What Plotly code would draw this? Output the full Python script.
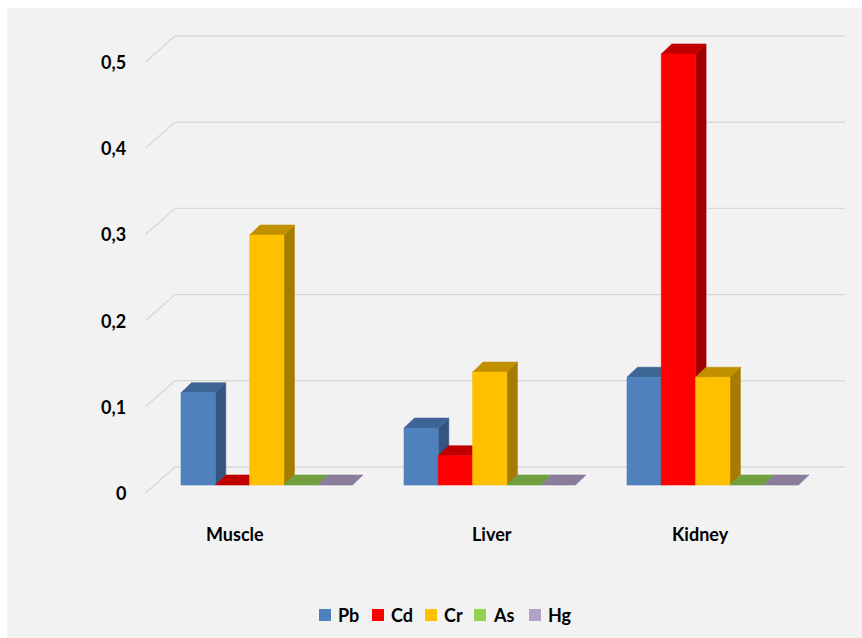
import plotly.graph_objects as go

# ---- data -------------------------------------------------------------
categories = ["Muscle", "Liver", "Kidney"]
metals = ["Pb", "Cd", "Cr", "As", "Hg"]
pb = [0.107, 0.066, 0.125]
cd = [0.0, 0.034, 0.5]
cr = [0.29, 0.131, 0.125]
as_ = [0.0, 0.0, 0.0]
hg = [0.0, 0.0, 0.0]
y_ticks = [0, 0.1, 0.2, 0.3, 0.4, 0.5]
y_tick_text = ["0", "0,1", "0,2", "0,3", "0,4", "0,5"]

series = [pb, cd, cr, as_, hg]

# ---- styling ----------------------------------------------------------
front_col = ["#4f81bd", "#ff0000", "#ffc000", "#92d050", "#b3a2c7"]
top_col = ["#3c6494", "#c00000", "#c09000", "#71a040", "#8a7d9c"]
side_col = ["#345481", "#a00000", "#a67c00", "#5e8a35", "#776a88"]
grid_col = "#d9d9d9"
FONT = "Lato"
TXT = dict(family=FONT, size=18, color="#000000", weight="bold")

W, H = 862, 638
ML, MT = 7, 8

# axis geometry (data units): 1 x-unit = one category step, y = value
X_RANGE = [-1.1648, 2.6693]
Y_RANGE = [-0.1775, 0.5534]
BW = 0.1538                 # bar width
DDX, DDY = 0.047, 0.0116    # bar depth projection
WALL_XL, WALL_XR, WALL_DY = -0.4114, 2.593, 0.0209
FLOOR_XL, FLOOR_DY = -0.5437, -0.0093
cat_label_shift = [-0.142, 0.008, -0.057]

# legend key layout (pixel positions of each key's left edge)
legend_key_px = [319, 372, 425, 474, 529]
legend_y_px = 615
KEY = 12


def px_to_paper(px, py):
    return (px - ML) / (W - ML), (H - py) / (H - MT)


fig = go.Figure()

# back wall gridlines with the perspective stub at the left
gx, gy = [], []
for v in y_ticks:
    gx += [FLOOR_XL, WALL_XL, WALL_XR, None]
    gy += [v + FLOOR_DY, v + WALL_DY, v + WALL_DY, None]
fig.add_trace(go.Scatter(x=gx, y=gy, mode="lines", line=dict(color=grid_col, width=1.4),
                         hoverinfo="skip", showlegend=False))


def poly(xs, ys, color, name):
    fig.add_trace(go.Scatter(x=xs + [xs[0]], y=ys + [ys[0]], mode="lines", fill="toself",
                             fillcolor=color, line=dict(width=0.6, color=color), name=name,
                             hoverinfo="skip", showlegend=False))


# pseudo-3D columns, painted left to right so neighbours overlap correctly
for i, cat in enumerate(categories):
    for j, vals in enumerate(series):
        v = vals[i]
        x0 = i - 2.5 * BW + j * BW
        x1 = x0 + BW
        if v > 0:
            poly([x1, x1 + DDX, x1 + DDX, x1], [0, DDY, v + DDY, v], side_col[j], metals[j])
        poly([x0, x1, x1 + DDX, x0 + DDX], [v, v, v + DDY, v + DDY], top_col[j], metals[j])
        if v > 0:
            poly([x0, x1, x1, x0], [0, 0, v, v], front_col[j], metals[j])

# value labels on the left
for v, t in zip(y_ticks, y_tick_text):
    fig.add_annotation(x=-0.622, y=v + FLOOR_DY, text=t, showarrow=False, xanchor="right",
                       yanchor="middle", font=TXT)

# category labels
for i, cat in enumerate(categories):
    fig.add_annotation(x=i + cat_label_shift[i], y=-0.057, text=cat, showarrow=False,
                       xanchor="center", yanchor="middle", font=TXT)

# legend: coloured key squares followed by the metal names
for j, name in enumerate(metals):
    kx0, ky0 = px_to_paper(legend_key_px[j], legend_y_px + KEY / 2)
    kx1, ky1 = px_to_paper(legend_key_px[j] + KEY, legend_y_px - KEY / 2)
    fig.add_shape(type="rect", xref="paper", yref="paper", x0=kx0, y0=ky0, x1=kx1, y1=ky1,
                  fillcolor=front_col[j], line=dict(width=0))
    tx, ty = px_to_paper(legend_key_px[j] + KEY + 5, legend_y_px)
    fig.add_annotation(xref="paper", yref="paper", x=tx, y=ty, text=name, showarrow=False,
                       xanchor="left", yanchor="middle", font=TXT)

fig.update_layout(
    width=W, height=H,
    margin=dict(l=ML, r=0, t=MT, b=0),
    paper_bgcolor="#ffffff",
    plot_bgcolor="#f2f2f2",
    xaxis=dict(range=X_RANGE, visible=False, fixedrange=True),
    yaxis=dict(range=Y_RANGE, visible=False, fixedrange=True),
    showlegend=False,
)

fig.write_html("out.html")
